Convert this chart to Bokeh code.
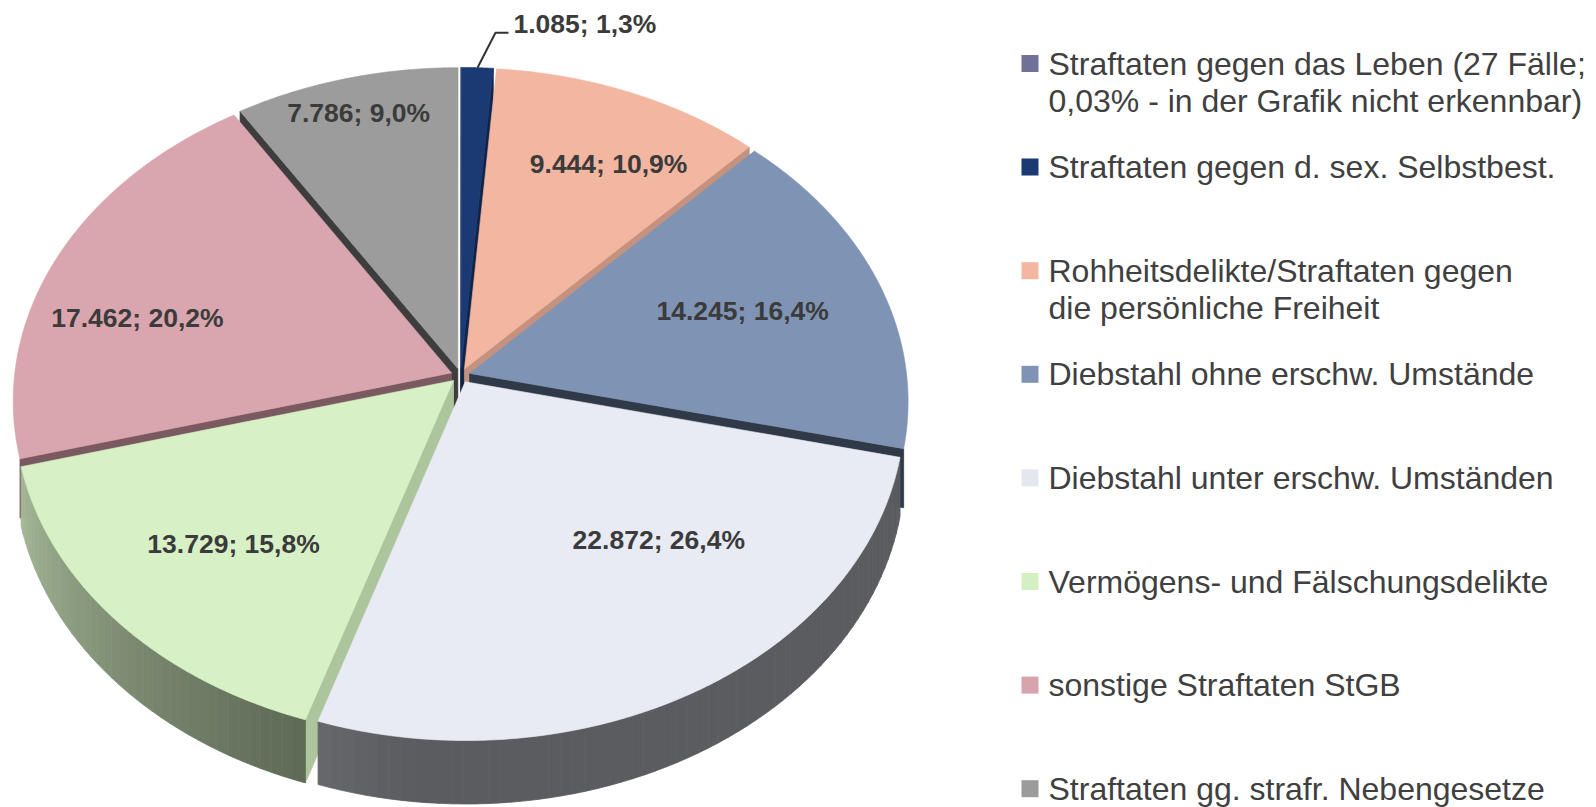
import math
import numpy as np
from bokeh.plotting import figure
from bokeh.models import Range1d
from bokeh.embed import file_html
from bokeh.resources import INLINE
from bokeh.core.properties import value

# ---------------- data ----------------
categories = [
    "Straftaten gegen das Leben (27 Fälle;\n0,03% - in der Grafik nicht erkennbar)",
    "Straftaten gegen d. sex. Selbstbest.",
    "Rohheitsdelikte/Straftaten gegen\ndie persönliche Freiheit",
    "Diebstahl ohne erschw. Umstände",
    "Diebstahl unter erschw. Umständen",
    "Vermögens- und Fälschungsdelikte",
    "sonstige Straftaten StGB",
    "Straftaten gg. strafr. Nebengesetze",
]
cases = [27, 1085, 9444, 14245, 22872, 13729, 17462, 7786]
show_label = [False, True, True, True, True, True, True, True]

# ---------------- styles ----------------
top_colors = ["#6f7196", "#1b3a73", "#f2b6a1", "#7f94b4", "#e8ebf3", "#d7f0c5", "#d9a5ae", "#9c9c9c"]
legend_colors = ["#6f7196", "#1b3a73", "#f2b6a1", "#7f94b4", "#e4e7f0", "#d4efc2", "#d7a3ad", "#9b9b9b"]
cut_colors = ["#4a4b66", "#10244a", "#c4927f", "#2f3947", "#5b5c60", "#adc59c", "#7a5a60", "#3d3d3d"]
# label placement (layout): radius fraction and angular nudge (deg)
label_r = [0.0, 0.0, 0.770, 0.686, 0.650, 0.700, 0.771, 0.897]
label_da = [0.0, 0.0, 3.5, -0.3, -12.6, -1.25, -8.1, 0.0]

FONT = "Liberation Sans"
TEXT_COLOR = "#3b3b3b"
LEGEND_TEXT = "#404040"

# ---------------- geometry (screen px) ----------------
W, H = 1596, 807
CX, AY = 460.0, 375.0
RX, RY, K = 437.0, 327.4, 0.0843
DEPTH = 58.0
EXPLODE = 0.022


def proj(u, v, h=0.0):
    u = np.asarray(u, dtype=float)
    v = np.asarray(v, dtype=float)
    s = 1.0 / (1.0 + K * v)
    return CX + RX * u * s, AY - RY * v * s + DEPTH * h * s


def arc(a0, a1, step=0.5):
    n = max(2, int(math.ceil((a1 - a0) / step)) + 1)
    return np.linspace(a0, a1, n)


def hex2rgb(h):
    h = h.lstrip("#")
    return tuple(int(h[i:i + 2], 16) for i in (0, 2, 4))


def shade(h, f):
    r, g, b = hex2rgb(h)
    return "#%02x%02x%02x" % tuple(max(0, min(255, int(round(c * f)))) for c in (r, g, b))


def wall_factor(a):
    t = min(1.0, max(0.0, (a - 185.0) / 70.0))
    return 0.39 + 0.38 * t ** 1.2


def de_num(n):
    return f"{n:,}".replace(",", ".")


def de_pct(p):
    return f"{p:.1f}".replace(".", ",") + "%"


total = sum(cases)
fracs = [c / total for c in cases]
starts = np.concatenate([[0.0], np.cumsum(fracs)[:-1]]) * 360.0
ends = starts + np.array(fracs) * 360.0
mids = (starts + ends) / 2.0
offs = [(EXPLODE * math.sin(math.radians(m)), EXPLODE * math.cos(math.radians(m))) for m in mids]

p = figure(width=W, height=H, x_range=Range1d(0, W), y_range=Range1d(H, 0),
           output_backend="svg", toolbar_location=None, min_border=0,
           x_axis_location=None, y_axis_location=None)
p.grid.visible = False
p.outline_line_color = None
p.background_fill_color = "white"
p.border_fill_color = "white"

# ---- radial (cut) walls ----
rad_walls = []
for i in range(len(cases)):
    ou, ov = offs[i]
    for a, normal_front in ((starts[i], math.sin(math.radians(starts[i])) < -1e-6),
                            (ends[i], math.sin(math.radians(ends[i])) > 1e-6)):
        if not normal_front:
            continue
        ua = math.sin(math.radians(a)) + ou
        va = math.cos(math.radians(a)) + ov
        xs, ys = [], []
        for uu, vv, hh in zip([ou, ua, ua, ou], [ov, va, va, ov], [0, 0, 1, 1]):
            x, y = proj(uu, vv, hh)
            xs.append(float(x)); ys.append(float(y))
        rad_walls.append((math.cos(math.radians(a)), xs, ys, cut_colors[i]))
rad_walls.sort(key=lambda t: -t[0])
p.patches([w[1] for w in rad_walls], [w[2] for w in rad_walls],
          fill_color=[w[3] for w in rad_walls], line_color=[w[3] for w in rad_walls], line_width=0.8)

# ---- outer curved walls (front-facing slices only) ----
lo = math.degrees(math.acos(-K))
hi = 360.0 - lo
wx, wy, wc = [], [], []
order = sorted(range(len(cases)), key=lambda i: -math.cos(math.radians(mids[i])))
for i in order:
    if math.cos(math.radians(mids[i])) >= 0:
        continue
    a0, a1 = max(starts[i], lo), min(ends[i], hi)
    if a1 <= a0:
        continue
    ou, ov = offs[i]
    angs = arc(a0, a1, 1.5)
    for j in range(len(angs) - 1):
        seg = [angs[j], angs[j + 1]]
        u = [math.sin(math.radians(s)) + ou for s in seg]
        v = [math.cos(math.radians(s)) + ov for s in seg]
        xt, yt = proj(u, v, 0)
        xb, yb = proj(u, v, 1)
        wx.append([xt[0], xt[1], xb[1], xb[0]])
        wy.append([yt[0], yt[1], yb[1], yb[0]])
        wc.append(shade(top_colors[i], wall_factor((seg[0] + seg[1]) / 2)))
p.patches(wx, wy, fill_color=wc, line_color=wc, line_width=0.8)

# ---- top faces ----
tx, ty, tc = [], [], []
for i in order:
    ou, ov = offs[i]
    angs = arc(starts[i], ends[i], 0.5)
    u = [ou] + [math.sin(math.radians(a)) + ou for a in angs]
    v = [ov] + [math.cos(math.radians(a)) + ov for a in angs]
    x, y = proj(u, v, 0)
    tx.append(list(x)); ty.append(list(y)); tc.append(top_colors[i])
p.patches(tx, ty, fill_color=tc, line_color=tc, line_width=0.6)

# ---- data labels ----
lx, ly, lt = [], [], []
for i in range(len(cases)):
    if not show_label[i] or label_r[i] == 0.0:
        continue
    a = math.radians(mids[i] + label_da[i])
    x, y = proj(label_r[i] * math.sin(a), label_r[i] * math.cos(a), 0)
    lx.append(float(x)); ly.append(float(y))
    lt.append(f"{de_num(cases[i])}; {de_pct(fracs[i] * 100)}")
p.text(lx, ly, text=lt, text_font=value(FONT), text_font_size=value("26.5px"), text_font_style="bold",
       text_align="center", text_baseline="middle", text_color=TEXT_COLOR)

# leader-line label for the small slice
i = 1
ou, ov = offs[i]
am = math.radians(mids[i])
sx, sy = proj(math.sin(am) + ou, math.cos(am) + ov, 0)
sx, sy = float(sx), float(sy)
p.line([sx, sx + 18, sx + 31], [sy, sy - 35, sy - 35], line_color="#333333", line_width=2)
p.text([sx + 36], [sy - 44], text=[f"{de_num(cases[i])}; {de_pct(fracs[i] * 100)}"],
       text_font=value(FONT), text_font_size=value("26.5px"), text_font_style="bold",
       text_align="left", text_baseline="middle", text_color=TEXT_COLOR)

# ---- legend ----
LEG_X, LEG_TX, LEG_Y0, LEG_STEP, LINE_H = 1029.5, 1048.0, 63.0, 103.6, 37.5
sq_x, sq_y = [], []
gx, gy, gt = [], [], []
for k, lab in enumerate(categories):
    yc = LEG_Y0 + k * LEG_STEP
    sq_x.append(LEG_X); sq_y.append(yc)
    for n, line in enumerate(lab.split("\n")):
        gx.append(LEG_TX); gy.append(yc + n * LINE_H); gt.append(line)
p.scatter(sq_x, sq_y, marker="square", size=17, fill_color=legend_colors, line_color=None)
p.text(gx, gy, text=gt, text_font=value(FONT), text_font_size=value("32px"),
       text_align="left", text_baseline="middle", text_color=LEGEND_TEXT)

open("out.html", "w").write(file_html(p, INLINE))
